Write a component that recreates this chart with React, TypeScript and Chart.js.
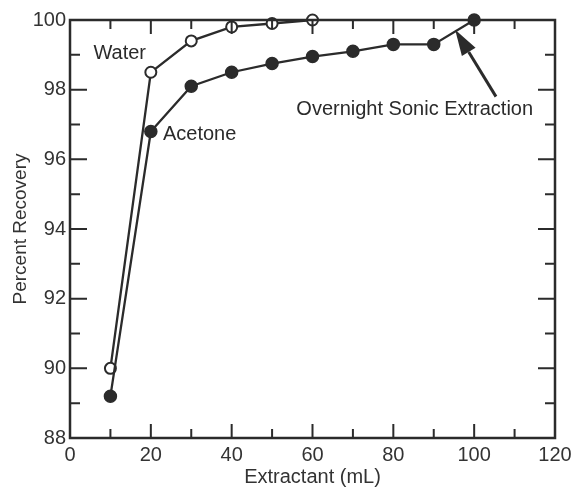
import React, { useEffect, useRef } from "react";
import { Chart, registerables } from "chart.js";

Chart.register(...registerables);

const waterX = [10, 20, 30, 40, 50, 60];
const waterY = [90.0, 98.5, 99.4, 99.8, 99.9, 100.0];
const acetoneX = [10, 20, 30, 40, 50, 60, 70, 80, 90, 100];
const acetoneY = [89.2, 96.8, 98.1, 98.5, 98.75, 98.95, 99.1, 99.3, 99.3, 100.0];

const xMin = 0, xMax = 120, xMajor = 20, xMinor = 10;
const yMin = 88, yMax = 100, yMajor = 2, yMinor = 1;

const INK = "#2b2b2b";
const FONT = "'Liberation Sans', Arial, Helvetica, sans-serif";

const labels = [
  { text: "Water", x: 12.3, y: 99.05, align: "center" as CanvasTextAlign },
  { text: "Acetone", x: 23, y: 96.72, align: "left" as CanvasTextAlign },
  { text: "Overnight Sonic Extraction", x: 56, y: 97.44, align: "left" as CanvasTextAlign },
];
const arrowFrom = { x: 105.4, y: 97.8 };
const arrowTo = { x: 95.3, y: 99.72 };

const decorPlugin = {
  id: "decor",
  afterDraw(chart: any) {
    const { ctx, chartArea: a, scales } = chart;
    const xs = scales.x, ys = scales.y;
    ctx.save();
    ctx.strokeStyle = INK;
    ctx.fillStyle = INK;
    ctx.lineWidth = 2.5;
    ctx.strokeRect(a.left, a.top, a.right - a.left, a.bottom - a.top);
    ctx.lineWidth = 2;
    const major = 14, minor = 9;
    for (let v = xMin; v <= xMax; v += xMinor) {
      const px = xs.getPixelForValue(v);
      const len = v % xMajor === 0 ? major : minor;
      ctx.beginPath();
      ctx.moveTo(px, a.bottom); ctx.lineTo(px, a.bottom - len);
      ctx.moveTo(px, a.top); ctx.lineTo(px, a.top + len);
      ctx.stroke();
    }
    for (let v = yMin; v <= yMax; v += yMinor) {
      const py = ys.getPixelForValue(v);
      const len = (v - yMin) % yMajor === 0 ? major + 3 : minor + 1;
      ctx.beginPath();
      ctx.moveTo(a.left, py); ctx.lineTo(a.left + len, py);
      ctx.moveTo(a.right, py); ctx.lineTo(a.right - len, py);
      ctx.stroke();
    }
    ctx.font = `20px ${FONT}`;
    ctx.textBaseline = "middle";
    for (const l of labels) {
      ctx.textAlign = l.align;
      ctx.fillText(l.text, xs.getPixelForValue(l.x), ys.getPixelForValue(l.y));
    }
    // arrow
    const x1 = xs.getPixelForValue(arrowFrom.x), y1 = ys.getPixelForValue(arrowFrom.y);
    const x2 = xs.getPixelForValue(arrowTo.x), y2 = ys.getPixelForValue(arrowTo.y);
    const ang = Math.atan2(y2 - y1, x2 - x1);
    const headLen = 26, headW = 8;
    const bx = x2 - headLen * Math.cos(ang), by = y2 - headLen * Math.sin(ang);
    ctx.lineWidth = 3;
    ctx.beginPath();
    ctx.moveTo(x1, y1); ctx.lineTo(bx, by);
    ctx.stroke();
    ctx.beginPath();
    ctx.moveTo(x2, y2);
    ctx.lineTo(bx + headW * Math.sin(ang), by - headW * Math.cos(ang));
    ctx.lineTo(bx - headW * Math.sin(ang), by + headW * Math.cos(ang));
    ctx.closePath();
    ctx.fill();
    ctx.restore();
  },
};

export default function App() {
  const ref = useRef<HTMLCanvasElement | null>(null);
  useEffect(() => {
    if (!ref.current) return;
    const chart = new Chart(ref.current, {
      type: "line",
      data: {
        datasets: [
          {
            label: "Acetone",
            data: acetoneX.map((x, i) => ({ x, y: acetoneY[i] })),
            borderColor: INK,
            borderWidth: 2.3,
            backgroundColor: INK,
            pointBackgroundColor: INK,
            pointBorderColor: INK,
            pointRadius: 6,
            pointBorderWidth: 1.5,
            tension: 0,
          },
          {
            label: "Water",
            data: waterX.map((x, i) => ({ x, y: waterY[i] })),
            borderColor: INK,
            borderWidth: 2.3,
            backgroundColor: "#fff",
            pointBackgroundColor: "#fff",
            pointBorderColor: INK,
            pointRadius: 5.5,
            pointBorderWidth: 2,
            tension: 0,
          },
        ],
      },
      options: {
        animation: false,
        responsive: false,
        maintainAspectRatio: false,
        clip: false as any,
        layout: { padding: { top: 20, right: 16, bottom: 0, left: 0 } },
        plugins: { legend: { display: false }, tooltip: { enabled: false } },
        scales: {
          x: {
            type: "linear",
            min: xMin,
            max: xMax,
            ticks: { stepSize: xMajor, color: "#333", font: { family: FONT, size: 20 }, padding: 5 },
            grid: { display: false, drawTicks: false },
            border: { display: false },
            title: { display: true, text: "Extractant (mL)", color: "#333", font: { family: FONT, size: 20 }, padding: { top: 0, bottom: -2 } },
            afterFit: (s: any) => { s.height = 49; s.paddingRight = 0; s.paddingLeft = 0; },
          },
          y: {
            type: "linear",
            min: yMin,
            max: yMax,
            ticks: { stepSize: yMajor, color: "#333", font: { family: FONT, size: 20 }, padding: 4 },
            grid: { display: false, drawTicks: false },
            border: { display: false },
            title: { display: true, text: "Percent Recovery", color: "#333", font: { family: FONT, size: 19 }, padding: { top: 9, bottom: 0 } },
            afterFit: (s: any) => { s.width = 70; s.paddingTop = 0; s.paddingBottom = 0; },
          },
        },
      },
      plugins: [decorPlugin],
    });
    return () => chart.destroy();
  }, []);
  return (
    <div style={{ position: "fixed", left: 0, top: 0, width: 571, height: 487, background: "#fff" }}>
      <canvas ref={ref} width={571} height={487} style={{ width: 571, height: 487, display: "block" }} />
    </div>
  );
}
